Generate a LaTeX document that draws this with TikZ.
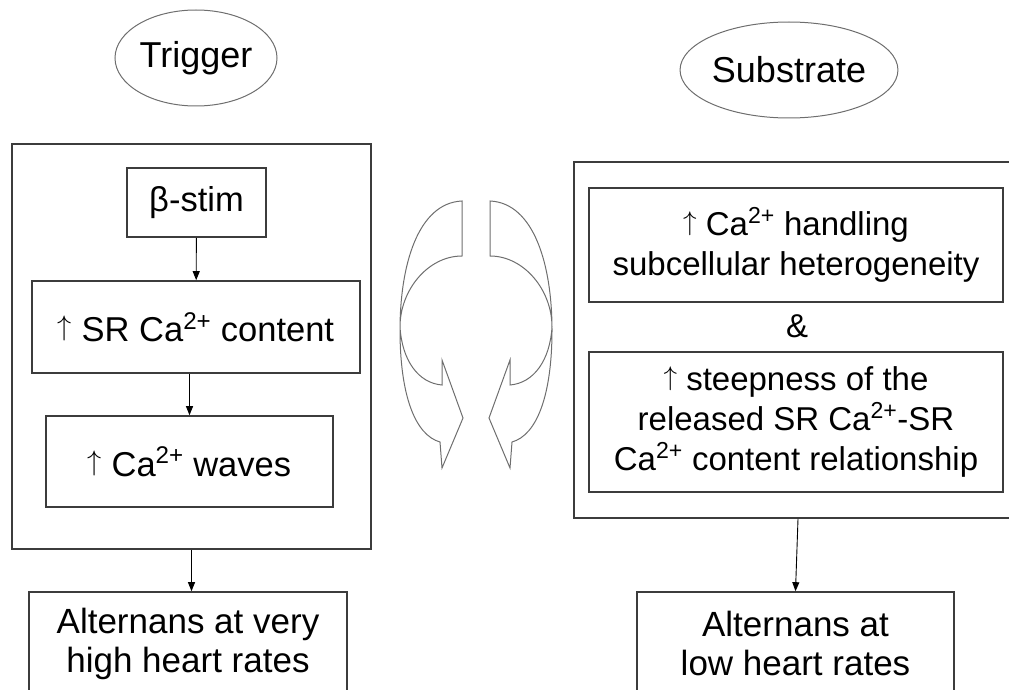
\RequirePackage{fix-cm}
\documentclass[tikz,border=0pt]{standalone}
\usepackage{fontspec}
\setmainfont{Liberation Sans}
\usetikzlibrary{arrows.meta,shapes.geometric}
\definecolor{edge}{HTML}{3C3C3C}
\definecolor{rim}{HTML}{6E6E6E}
\newcommand{\ca}{Ca\textsuperscript{2+}}
\newcommand{\upar}{\raisebox{0.17em}{\scalebox{0.82}{$\uparrow$}}}
\newcommand{\trigfont}{\fontsize{34.5}{40}\selectfont}
\newcommand{\subsfont}{\fontsize{33}{40}\selectfont}
\newcommand{\altfont}{\fontsize{35}{39}\selectfont}

\begin{document}
\begin{tikzpicture}[x=1pt,y=-1pt,
  box/.style={draw=edge,line width=1.6pt,align=center,inner sep=0pt},
  oval/.style={ellipse,draw=rim,line width=1pt,inner sep=0pt,font=\fontsize{36}{40}\selectfont},
  link/.style={-{Triangle[length=9pt,width=7pt]},line width=0.9pt},
  curl/.style={draw=rim,line width=1pt,line join=miter}]
  \useasboundingbox (0,0) rectangle (1009,690);
  % headings
  \node[oval,minimum width=162pt,minimum height=96pt] (trig) at (196,58) {Trigger};
  \node[oval,minimum width=188pt,minimum height=96pt] (subs) at (789,70) {Substrate};
  % trigger column
  \node[box,minimum width=359pt,minimum height=405pt] (trigbox) at (191.5,346.5) {};
  \node[box,font=\trigfont,minimum width=139pt,minimum height=69pt] (bstim) at (196.5,202.5) {β-stim};
  \node[box,font=\trigfont,minimum width=328pt,minimum height=92pt] (srload) at (196,327) {\upar{} SR \ca{} content};
  \node[box,font=\trigfont,minimum width=287pt,minimum height=91pt] (waves) at (189.5,461.5) {\upar{} \ca{} waves};
  % substrate column
  \node[box,minimum width=448pt,minimum height=356pt] (subsbox) at (798,340) {};
  \node[box,font=\subsfont,minimum width=414pt,minimum height=114pt] (hetero) at (796,245) {\upar{} \ca{} handling\\subcellular heterogeneity};
  \node[font=\subsfont,inner sep=0pt] (amp) at (797,326) {\&};
  \node[box,font=\subsfont,minimum width=414pt,minimum height=140pt] (steep) at (796,422) {\upar{} steepness of the\\released SR \ca-SR\\\ca{} content relationship};
  % outcomes
  \node[box,font=\altfont,minimum width=318pt,minimum height=103pt] (altfast) at (188,643.5) {Alternans at very\\high heart rates};
  \node[box,font=\altfont,minimum width=317pt,minimum height=103pt] (altslow) at (795.5,643.5) {Alternans at\\low heart rates};
  \draw[link] (bstim) -- (srload);
  \draw[link] (srload.south -| waves.north) -- (waves.north);
  \draw[link] (trigbox.south) -- (trigbox.south |- altfast.north);
  \draw[link] (subsbox.south) -- (altslow.north);
  % curved arrows between the columns
  \foreach \s in {1,-1}
    \draw[curl,shift={({(1-(\s))*476},0)},xscale=\s] (462,201) .. controls (418,203) and (400,265) .. (400,330) .. controls (400,395) and (415,435) .. (440,442) -- (442,468) -- (463,418) -- (442,360) -- (442,385) .. controls (418,383) and (402,360) .. (400,327) .. controls (400,290) and (428,256) .. (462,256) -- cycle;
\end{tikzpicture}
\end{document}
